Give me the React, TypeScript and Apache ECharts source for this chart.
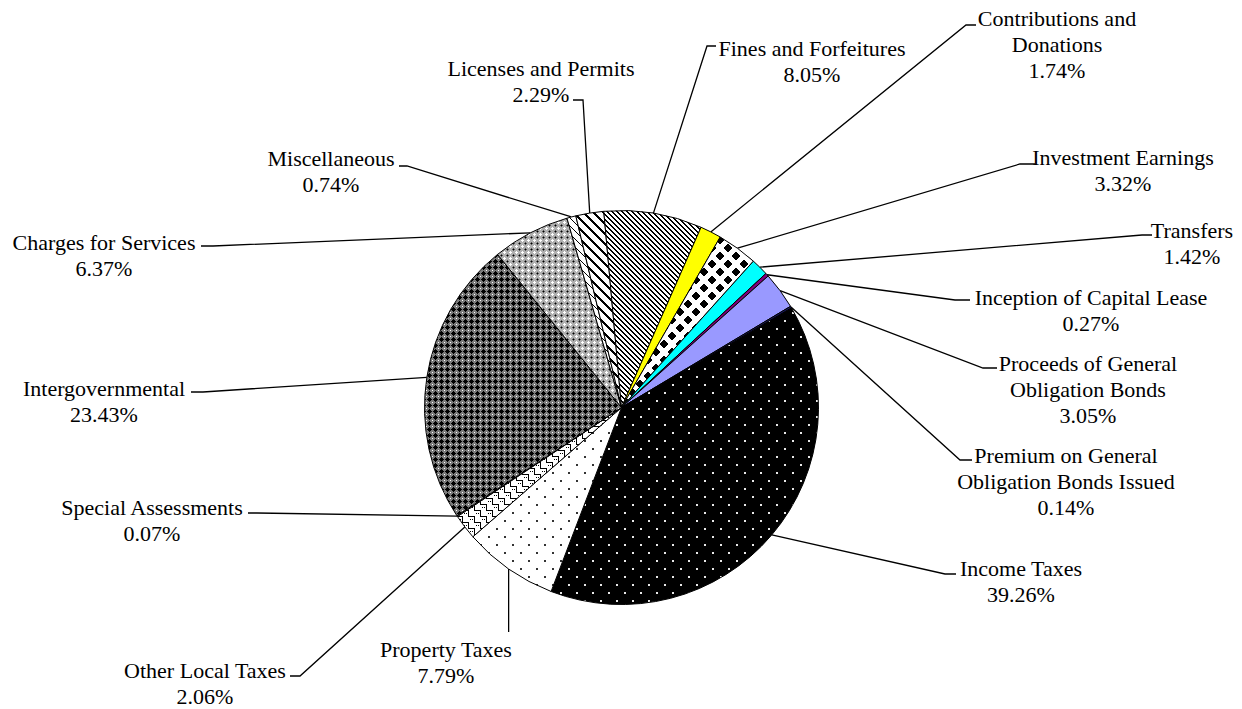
import React, { useEffect, useRef } from 'react';
import * as echarts from 'echarts';

// ---- data (clockwise from the Income Taxes slice) ----
const categories = [
  'Income Taxes',
  'Property Taxes',
  'Other Local Taxes',
  'Special Assessments',
  'Intergovernmental',
  'Charges for Services',
  'Miscellaneous',
  'Licenses and Permits',
  'Fines and Forfeitures',
  'Contributions and\nDonations',
  'Investment Earnings',
  'Transfers',
  'Inception of Capital Lease',
  'Proceeds of General\nObligation Bonds',
  'Premium on General\nObligation Bonds Issued',
];
const percents = [39.26, 7.79, 2.06, 0.07, 23.43, 6.37, 0.74, 2.29, 8.05, 1.74, 3.32, 1.42, 0.27, 3.05, 0.14];

// ---- label placement (layout only) ----
type Place = { x: number; y: number; elbow: number[] | null; end: number[] };
const placements: Place[] = [
  { x: 1021, y: 555, elbow: [945, 574], end: [956, 574] },
  { x: 446, y: 636, elbow: null, end: [NaN, 632] },
  { x: 205, y: 657, elbow: [300, 676], end: [290, 676] },
  { x: 152, y: 494, elbow: [257, 513], end: [248, 513] },
  { x: 104, y: 375, elbow: [203, 392], end: [191, 392] },
  { x: 104, y: 229, elbow: [213, 246], end: [201, 246] },
  { x: 331, y: 145, elbow: [407, 166], end: [399, 166] },
  { x: 541, y: 55, elbow: [583, 100], end: [573, 100] },
  { x: 812, y: 35, elbow: [707, 46], end: [716, 46] },
  { x: 1057, y: 5, elbow: [966, 25], end: [976, 25] },
  { x: 1123, y: 144, elbow: [1020, 164], end: [1035, 164] },
  { x: 1192, y: 217, elbow: [1142, 235], end: [1152, 235] },
  { x: 1091, y: 284, elbow: [955, 300], end: [970, 300] },
  { x: 1088, y: 350, elbow: [983, 368], end: [997, 368] },
  { x: 1066, y: 442, elbow: [960, 460], end: [972, 460] },
];

const CENTER = [621.5, 407.5];
const RADIUS = 197;
const START_ANGLE = 30.4;

function pixelTile(w: number, h: number, fn: (x: number, y: number) => string) {
  const c = document.createElement('canvas');
  c.width = w;
  c.height = h;
  const ctx = c.getContext('2d')!;
  for (let y = 0; y < h; y++) {
    for (let x = 0; x < w; x++) {
      ctx.fillStyle = fn(x, y);
      ctx.fillRect(x, y, 1, 1);
    }
  }
  return { image: c.toDataURL(), repeat: 'repeat', imageWidth: w, imageHeight: h } as any;
}

function buildFills() {
  const income = pixelTile(16, 16, (x, y) =>
    ((x < 2 && y < 2) || (x >= 8 && x < 10 && y >= 8 && y < 10)) ? '#e8e8e8' : '#000000');
  const property = pixelTile(16, 16, (x, y) =>
    ((x < 2 && y < 2) || (x >= 8 && x < 10 && y >= 8 && y < 10)) ? '#333333' : '#ffffff');
  const otherLocal = pixelTile(12, 12, (x, y) => {
    const on = (y === 0 && x <= 6) || (x === 6 && y <= 6) || (y === 6 && x >= 6) || (x === 0 && y >= 6) ||
      (y === 3 && (x === 2 || x === 4)) || (y === 9 && (x === 8 || x === 10));
    return on ? '#000000' : '#ffffff';
  });
  const intergov = pixelTile(6, 6, (x, y) => {
    if (x === 0 && y === 0) return '#ffffff';
    if (Math.abs(x - 3) + Math.abs(y - 3) <= 2) return '#000000';
    return '#7a7a7a';
  });
  const charges = pixelTile(6, 6, (x, y) => {
    if ((x === 0 && (y === 0 || y === 1 || y === 5)) || (y === 0 && (x === 1 || x === 5))) return '#ffffff';
    if (x === 3 && y === 3) return '#000000';
    if (Math.abs(x - 3) + Math.abs(y - 3) === 1) return '#555555';
    return '#b0b0b0';
  });
  const misc = pixelTile(8, 8, (x, y) => ((x - y + 8) % 8 === 0 ? '#000000' : '#ffffff'));
  const licenses = pixelTile(10, 10, (x, y) => ((x - y + 10) % 10 < 3 ? '#000000' : '#ffffff'));
  const fines = pixelTile(5, 5, (x, y) => ((x - y + 5) % 5 < 2 ? '#000000' : '#ffffff'));
  const invest = pixelTile(16, 16, (x, y) => {
    const px = x + 0.5, py = y + 0.5;
    const d1 = Math.abs(px - 8) + Math.abs(py - 8);
    const dx = Math.min(px, 16 - px), dy = Math.min(py, 16 - py);
    const d2 = dx + dy;
    return d1 < 4.2 || d2 < 4.2 ? '#000000' : '#ffffff';
  });
  return [
    income, property, otherLocal, '#ffffff', intergov, charges, misc, licenses, fines,
    '#ffff00', invest, '#00ffff', '#800080', '#9999ff', '#1a1a66',
  ];
}

function edgePoint(i: number) {
  let cum = 0;
  for (let k = 0; k < i; k++) cum += percents[k];
  const mid = (cum + percents[i] / 2) / 100 * 360;
  const ang = (90 - START_ANGLE + mid) * Math.PI / 180; // clockwise from top
  return [CENTER[0] + RADIUS * Math.sin(ang), CENTER[1] - RADIUS * Math.cos(ang)];
}

export default function App() {
  const ref = useRef<HTMLDivElement>(null);
  useEffect(() => {
    if (!ref.current) return;
    const chart = echarts.init(ref.current, undefined, { renderer: 'svg' });
    const fills = buildFills();
    const data = categories.map((name, i) => ({
      name,
      value: percents[i],
      itemStyle: { color: fills[i] },
    }));
    chart.setOption({
      animation: false,
      backgroundColor: '#ffffff',
      series: [
        {
          type: 'pie',
          center: CENTER,
          radius: RADIUS,
          startAngle: START_ANGLE,
          clockwise: true,
          avoidLabelOverlap: false,
          silent: true,
          data,
          itemStyle: { borderColor: '#000000', borderWidth: 1 },
          label: {
            show: true,
            position: 'outside',
            formatter: (p: any) => `${p.name}\n${Number(p.value).toFixed(2)}%`,
            fontFamily: "'Liberation Serif', 'Times New Roman', serif",
            fontSize: 22,
            lineHeight: 26,
            color: '#000000',
            align: 'center',
          },
          labelLine: {
            show: true,
            length: 10,
            length2: 10,
            smooth: false,
            lineStyle: { color: '#000000', width: 1.3 },
          },
          labelLayout: (params: any) => {
            const p = placements[params.dataIndex];
            const pts = params.labelLinePoints;
            const edge = pts && pts[0] ? [pts[0][0], pts[0][1]] : edgePoint(params.dataIndex);
            const end = isNaN(p.end[0]) ? [edge[0], p.end[1]] : p.end;
            const elbow = p.elbow ? p.elbow : end;
            return {
              x: p.x,
              y: p.y,
              align: 'center',
              verticalAlign: 'top',
              labelLinePoints: [edge, elbow, end],
            };
          },
        },
      ],
    });
    return () => chart.dispose();
  }, []);
  return (
    <div
      ref={ref}
      style={{ position: 'absolute', left: 0, top: 0, width: 1242, height: 709 }}
    />
  );
}
